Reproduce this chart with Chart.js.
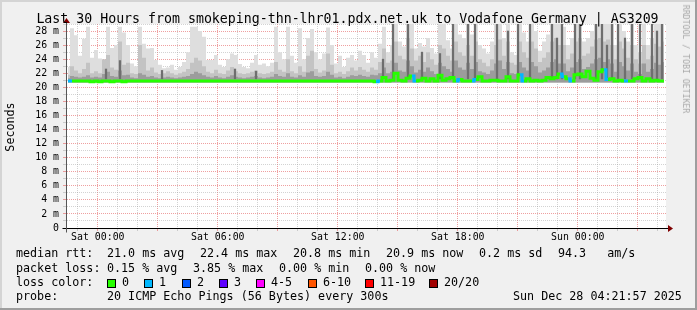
<!DOCTYPE html>
<html>
<head>
<meta charset="utf-8">
<script src="https://cdn.jsdelivr.net/npm/chart.js@4.4.1/dist/chart.umd.min.js"></script>
<style>
  html, body { margin: 0; padding: 0; background: #f0f0f0; }
  #wrap { position: relative; width: 697px; height: 310px; overflow: hidden; background: #f0f0f0;
          font-family: 'DejaVu Sans Mono', monospace; color: #000; }
  #c { position: absolute; left: 0; top: 0; }
  .txt { position: absolute; white-space: pre; line-height: 14px; font-size: 11.7px; }
  #title { position: absolute; left: 0; width: 695px; top: 11px; text-align: center; font-size: 13.25px; line-height: 16px; white-space: pre; }
  #ylab { position: absolute; left: 10px; top: 127px; font-size: 11.7px; line-height: 14px;
          transform: translate(-50%, -50%) rotate(-90deg); white-space: pre; }
  #mark { position: absolute; left: 686px; top: 59px; font-size: 8.2px; line-height: 10px; color: #a8a8a8;
          transform: translate(-50%, -50%) rotate(90deg); white-space: pre; }
  .box { position: absolute; width: 9px; height: 9px; box-sizing: border-box; border: 1px solid #000; }
  .edge { position: absolute; }
</style>
</head>
<body>
<div id="wrap">
  <canvas id="c" width="697" height="310"></canvas>
  <div id="title">Last 30 Hours from smokeping-thn-lhr01.pdx.net.uk to Vodafone Germany | AS3209</div>
  <div id="ylab">Seconds</div>
  <div id="mark">RRDTOOL / TOBI OETIKER</div>
  <div id="legend"></div>
  <div class="edge" style="left:0;top:0;width:697px;height:2px;background:#d4d4d4"></div>
  <div class="edge" style="left:0;top:0;width:2px;height:310px;background:#d4d4d4"></div>
  <div class="edge" style="left:0;top:308px;width:697px;height:2px;background:#9e9e9e"></div>
  <div class="edge" style="left:695px;top:0;width:2px;height:310px;background:#9e9e9e"></div>
</div>
<script>
// time axis: hours relative to Sat 00:00, one column per 12 minutes
let xMin = -1.59, xMax = 28.41, stepHours = 0.2;

let xTickHours = [0, 6, 12, 18, 24];
let xTickLabels = ['Sat 00:00', 'Sat 06:00', 'Sat 12:00', 'Sat 18:00', 'Sun 00:00'];
let yTickValues = [0, 2, 4, 6, 8, 10, 12, 14, 16, 18, 20, 22, 24, 26, 28];
let yTickLabels = ['0', '2 m', '4 m', '6 m', '8 m', '10 m', '12 m', '14 m', '16 m', '18 m', '20 m', '22 m', '24 m', '26 m', '28 m'];

// smoke: top of the light, medium and dark bands (ms)
let smokeHi = [
  22.9, 28.4, 27.4, 24.5, 26.9, 28.6, 24.2, 25.3, 24.1, 23.5,
  28.6, 25.6, 26.0, 28.6, 27.8, 26.0, 23.4, 23.0, 28.6, 26.2,
  25.5, 25.6, 23.9, 23.2, 22.7, 22.8, 23.2, 22.5, 22.9, 23.6,
  25.0, 28.6, 28.6, 28.0, 27.2, 23.9, 23.9, 24.6, 23.2, 22.9,
  24.0, 24.8, 24.6, 23.3, 22.9, 22.7, 23.5, 24.6, 23.2, 23.4,
  23.0, 23.5, 28.6, 25.0, 24.0, 28.6, 24.5, 23.5, 28.4, 24.0,
  27.0, 28.3, 25.0, 24.0, 24.8, 28.5, 26.0, 23.4, 24.5, 22.9,
  24.2, 24.6, 23.8, 25.2, 24.6, 23.5, 25.0, 24.2, 26.2, 28.6,
  25.0, 26.0, 29.0, 26.5, 25.8, 29.0, 29.0, 25.5, 26.3, 25.8,
  27.0, 25.6, 24.8, 29.0, 29.0, 26.7, 25.5, 29.0, 27.5, 27.0,
  29.0, 27.5, 29.0, 26.0, 25.5, 24.8, 26.5, 29.0, 29.0, 27.0,
  29.0, 25.0, 24.6, 29.0, 27.8, 26.5, 29.0, 28.0, 25.2, 26.5,
  27.5, 29.0, 29.0, 29.0, 28.6, 26.0, 27.0, 29.0, 29.0, 26.5,
  27.0, 28.0, 29.0, 29.0, 29.0, 29.0, 29.0, 26.0, 29.0, 28.0,
  26.5, 29.0, 26.0, 25.0, 29.0, 26.0, 27.0, 29.0, 29.0, 29.0
];
let smokeMid = [
  21.8, 23.0, 22.4, 22.0, 22.6, 23.5, 22.0, 22.3, 22.0, 24.0,
  24.6, 22.8, 22.5, 26.5, 23.2, 23.5, 22.0, 21.9, 26.0, 24.2,
  22.4, 22.8, 22.1, 21.9, 22.0, 22.3, 22.0, 21.8, 22.0, 22.2,
  22.6, 23.5, 24.2, 23.8, 23.0, 22.2, 22.0, 22.5, 22.0, 21.9,
  22.4, 22.9, 22.3, 22.0, 21.9, 22.0, 22.2, 22.4, 22.0, 21.9,
  22.0, 22.2, 23.6, 22.5, 22.2, 24.0, 22.3, 22.0, 23.0, 22.2,
  24.5, 25.2, 22.6, 22.1, 22.4, 24.8, 23.2, 22.0, 22.2, 21.9,
  22.3, 22.8, 22.4, 22.9, 22.5, 22.2, 22.8, 22.5, 23.6, 25.5,
  23.5, 23.8, 26.5, 24.5, 24.0, 27.0, 25.5, 23.8, 24.5, 23.6,
  25.0, 24.0, 23.2, 26.0, 25.5, 24.5, 23.8, 26.5, 25.0, 24.5,
  26.0, 24.5, 26.5, 24.0, 23.5, 23.0, 24.0, 26.0, 26.8, 24.5,
  26.5, 23.5, 23.2, 26.5, 25.0, 24.2, 26.5, 25.5, 23.6, 24.2,
  25.0, 26.5, 27.0, 26.0, 26.0, 24.0, 24.8, 26.5, 27.0, 24.5,
  24.8, 25.8, 26.8, 27.0, 26.5, 26.8, 26.0, 24.0, 26.5, 25.5,
  24.2, 26.0, 24.0, 23.4, 26.0, 24.0, 24.5, 26.2, 25.8, 26.5
];
let smokeLow = [
  21.3, 21.6, 21.5, 21.4, 21.5, 21.7, 21.4, 21.5, 21.4, 21.9,
  22.2, 21.6, 21.5, 22.4, 21.7, 21.8, 21.4, 21.3, 22.0, 21.8,
  21.5, 21.6, 21.4, 21.3, 21.4, 21.5, 21.4, 21.3, 21.4, 21.5,
  21.6, 21.9, 22.2, 22.0, 21.7, 21.5, 21.4, 21.6, 21.4, 21.3,
  21.5, 21.7, 21.5, 21.4, 21.3, 21.4, 21.5, 21.6, 21.4, 21.3,
  21.4, 21.5, 21.9, 21.6, 21.5, 22.0, 21.5, 21.4, 21.7, 21.5,
  22.1, 22.3, 21.6, 21.5, 21.6, 22.2, 21.8, 21.4, 21.5, 21.3,
  21.5, 21.7, 21.6, 21.8, 21.6, 21.5, 21.8, 21.7, 22.0, 22.8,
  22.0, 22.2, 23.5, 22.4, 22.2, 23.8, 23.0, 22.1, 22.5, 22.2,
  22.8, 22.3, 21.9, 23.5, 23.0, 22.6, 22.2, 23.8, 22.8, 22.5,
  23.5, 22.6, 23.6, 22.3, 22.1, 21.9, 22.4, 23.4, 23.8, 22.6,
  23.6, 22.0, 21.9, 23.6, 22.8, 22.4, 23.6, 23.0, 22.1, 22.4,
  22.8, 23.6, 24.0, 23.4, 23.4, 22.3, 22.8, 23.6, 24.0, 22.6,
  22.9, 23.4, 24.0, 24.2, 23.6, 24.0, 23.4, 22.2, 23.6, 23.0,
  22.4, 23.4, 22.2, 21.9, 23.4, 22.2, 22.6, 23.5, 23.2, 23.6
];
let medianRtt = [
  20.9, 20.9, 20.9, 20.9, 20.9, 20.9, 20.8, 20.9, 20.8, 20.9,
  20.9, 20.8, 20.9, 20.9, 20.8, 20.9, 20.9, 20.9, 20.9, 20.9,
  20.9, 20.9, 20.9, 20.9, 20.9, 20.9, 20.9, 20.9, 20.9, 20.9,
  20.9, 20.9, 20.9, 20.9, 20.9, 20.9, 20.9, 20.9, 20.9, 20.9,
  20.9, 20.9, 20.9, 20.9, 20.9, 20.9, 20.9, 20.9, 20.9, 20.9,
  20.9, 20.9, 20.9, 20.9, 20.9, 20.9, 20.9, 20.9, 20.9, 20.9,
  20.9, 20.9, 20.9, 20.9, 20.9, 20.9, 20.9, 20.9, 20.9, 20.9,
  20.9, 20.9, 20.9, 20.9, 20.9, 20.9, 20.9, 20.8, 20.9, 21.4,
  20.9, 21.0, 22.0, 21.0, 20.9, 21.3, 21.6, 20.9, 21.0, 21.3,
  20.9, 21.2, 20.9, 21.7, 21.0, 21.2, 21.4, 20.9, 21.1, 20.9,
  20.9, 20.9, 21.1, 21.5, 20.9, 20.9, 21.0, 21.0, 20.9, 20.9,
  21.5, 20.9, 20.9, 21.8, 20.9, 21.2, 20.9, 21.0, 20.9, 21.0,
  21.4, 21.2, 21.4, 21.9, 21.5, 21.2, 20.9, 21.8, 21.9, 21.5,
  22.3, 21.3, 21.0, 22.2, 22.5, 21.1, 21.2, 20.9, 21.0, 20.9,
  20.9, 20.9, 21.2, 21.4, 20.9, 21.2, 20.9, 21.0, 20.9, 20.9
];
// lost pings per column (index into lossColors)
let lossBucket = [
  1, 0, 0, 0, 0, 0, 0, 0, 0, 0,
  0, 0, 0, 0, 0, 0, 0, 0, 0, 0,
  0, 0, 0, 0, 0, 0, 0, 0, 0, 0,
  0, 0, 0, 0, 0, 0, 0, 0, 0, 0,
  0, 0, 0, 0, 0, 0, 0, 0, 0, 0,
  0, 0, 0, 0, 0, 0, 0, 0, 0, 0,
  0, 0, 0, 0, 0, 0, 0, 0, 0, 0,
  0, 0, 0, 0, 0, 0, 0, 1, 0, 0,
  0, 0, 0, 0, 0, 0, 1, 0, 0, 0,
  0, 0, 0, 0, 0, 0, 0, 1, 0, 0,
  0, 1, 0, 0, 0, 0, 0, 0, 0, 0,
  0, 0, 0, 1, 0, 0, 0, 0, 0, 0,
  0, 0, 0, 1, 0, 1, 0, 0, 0, 0,
  0, 0, 0, 0, 1, 0, 0, 0, 0, 1,
  0, 0, 0, 0, 0, 0, 0, 0, 0, 0
];
// narrow dark spikes: time (hours from Sat 00:00) and top (ms)
let spikeHours = [0.41, 1.11, 3.21, 6.86, 7.91, 14.26, 14.76, 15.51, 16.21, 17.11, 17.76, 18.51, 18.86, 19.96, 20.51, 21.01,
  21.61, 22.71, 22.96, 23.21, 23.86, 24.11, 24.91, 25.21, 25.46, 25.71, 26.01, 26.36, 26.71, 27.11, 27.71, 27.96, 28.21];
let spikeTops = [22.6, 23.8, 22.4, 22.6, 22.3, 24.0, 29.0, 29.0, 25.0, 24.8, 29.0, 29.0, 29.0, 29.0, 28.0, 29.0,
  29.0, 29.0, 27.0, 29.0, 29.0, 29.0, 29.0, 29.0, 26.0, 29.0, 29.0, 27.0, 29.0, 29.0, 29.0, 28.0, 29.0];

let lossLabels = ['0', '1', '2', '3', '4-5', '6-10', '11-19', '20/20'];
let lossColors = ['#26ff00', '#00b8ff', '#0059ff', '#5e00ff', '#ff00ff', '#ff5500', '#ff0000', '#a10000'];

let times = smokeHi.map((v, i) => +(xMin + (i + 0.5) * stepHours).toFixed(3));
function pts(arr) { return arr.map((v, i) => ({ x: times[i], y: v })); }

let majorGrid = 'rgba(228,96,96,0.6)';
let minorGrid = 'rgba(150,150,150,0.42)';
let tickFont = { family: 'DejaVu Sans Mono', size: 9.9 };

let areaBg = {
  id: 'areaBg',
  beforeDraw(chart) {
    let a = chart.chartArea, ctx = chart.ctx;
    ctx.save();
    ctx.fillStyle = '#ffffff';
    ctx.fillRect(a.left, a.top, a.right - a.left, a.bottom - a.top);
    ctx.restore();
  }
};

let axisArrows = {
  id: 'axisArrows',
  afterDraw(chart) {
    let a = chart.chartArea, ctx = chart.ctx;
    let x0 = Math.round(a.left) + 0.5, y0 = Math.round(a.bottom) + 0.5;
    ctx.save();
    ctx.lineWidth = 1;
    ctx.strokeStyle = '#000';
    ctx.beginPath();
    ctx.moveTo(x0 - 4, y0); ctx.lineTo(a.right + 3, y0);
    ctx.stroke();
    ctx.strokeStyle = '#555';
    ctx.beginPath();
    ctx.moveTo(x0, y0 + 4); ctx.lineTo(x0, a.top - 2);
    ctx.stroke();
    ctx.fillStyle = '#7f0000';
    ctx.beginPath();
    ctx.moveTo(a.right + 2, y0 - 3.5); ctx.lineTo(a.right + 7, y0); ctx.lineTo(a.right + 2, y0 + 3.5);
    ctx.closePath(); ctx.fill();
    ctx.beginPath();
    ctx.moveTo(x0 - 3.5, a.top - 1); ctx.lineTo(x0, a.top - 6); ctx.lineTo(x0 + 3.5, a.top - 1);
    ctx.closePath(); ctx.fill();
    ctx.restore();
  }
};

function smoke(data, color, order) {
  return {
    type: 'line', data: pts(data), order: order,
    backgroundColor: color, borderColor: 'rgba(0,0,0,0)', borderWidth: 0,
    pointRadius: 0, stepped: 'middle', fill: { value: 20.7 }
  };
}

new Chart(document.getElementById('c').getContext('2d'), {
  type: 'line',
  data: {
    datasets: [
      {
        type: 'line', data: pts(medianRtt), order: 1,
        borderColor: lossColors[0], borderWidth: 3, pointRadius: 0, stepped: 'middle', fill: false,
        segment: { borderColor: ctx => lossColors[lossBucket[ctx.p0DataIndex]] }
      },
      {
        type: 'bar', order: 2,
        data: spikeHours.map((h, i) => ({ x: h, y: [21.2, spikeTops[i]] })),
        backgroundColor: '#6e6e6e', barThickness: 1.6, grouped: false
      },
      smoke(smokeLow, '#9c9c9c', 3),
      smoke(smokeMid, '#c3c3c3', 4),
      smoke(smokeHi, '#dedede', 5)
    ]
  },
  options: {
    responsive: false,
    animation: false,
    events: [],
    layout: { padding: { left: 0, top: 24, right: 31, bottom: 62 } },
    plugins: { legend: { display: false }, title: { display: false }, tooltip: { enabled: false } },
    scales: {
      x: {
        type: 'linear', min: xMin, max: xMax, offset: false, z: 1,
        afterFit: s => { s.height = 20; },
        afterBuildTicks: s => {
          let t = [];
          for (let h = Math.ceil(xMin); h <= Math.floor(xMax); h++) t.push({ value: h });
          s.ticks = t;
        },
        grid: {
          offset: false, drawTicks: true, tickLength: 3, lineWidth: 1,
          color: c => (c.tick && c.tick.value % 3 === 0) ? majorGrid : minorGrid
        },
        border: { display: true, color: '#000', width: 1, dash: [1, 1] },
        ticks: {
          autoSkip: false, maxRotation: 0, minRotation: 0, padding: 0, color: '#000', font: tickFont,
          callback: v => { let i = xTickHours.indexOf(v); return i >= 0 ? xTickLabels[i] : ''; }
        }
      },
      y: {
        type: 'linear', min: 0, max: 29, z: 1,
        afterFit: s => { s.width = 66; },
        afterBuildTicks: s => {
          let t = [];
          for (let v = 0; v <= 29; v++) t.push({ value: v });
          s.ticks = t;
        },
        grid: {
          drawTicks: true, tickLength: 3, lineWidth: 1,
          color: c => (c.tick && c.tick.value % 2 === 0) ? majorGrid : minorGrid
        },
        border: { display: true, color: '#555', width: 1, dash: [1, 1] },
        ticks: {
          autoSkip: false, padding: 4, color: '#000', font: tickFont,
          callback: v => { let i = yTickValues.indexOf(v); return i >= 0 ? yTickLabels[i] : ''; }
        }
      }
    }
  },
  plugins: [areaBg, axisArrows]
});

// legend block under the graph
let legend = document.getElementById('legend');
function put(text, left, top) {
  let d = document.createElement('div');
  d.className = 'txt';
  d.style.left = left + 'px';
  d.style.top = top + 'px';
  d.textContent = text;
  legend.appendChild(d);
}
let rowTop = [246.4, 260.6, 274.8, 289.0];
put('median rtt:', 16, rowTop[0]);
put('21.0 ms avg', 107, rowTop[0]);
put('22.4 ms max', 200, rowTop[0]);
put('20.8 ms min', 293, rowTop[0]);
put('20.9 ms now', 386, rowTop[0]);
put('0.2 ms sd', 479, rowTop[0]);
put('94.3   am/s', 558, rowTop[0]);
put('packet loss:', 16, rowTop[1]);
put('0.15 % avg', 107, rowTop[1]);
put('3.85 % max', 193, rowTop[1]);
put('0.00 % min', 279, rowTop[1]);
put('0.00 % now', 365, rowTop[1]);
put('loss color:', 16, rowTop[2]);
let boxX = [107, 144, 182, 219, 256, 308, 365, 429];
lossLabels.forEach((lab, i) => {
  let b = document.createElement('div');
  b.className = 'box';
  b.style.left = boxX[i] + 'px';
  b.style.top = '278.5px';
  b.style.background = lossColors[i];
  legend.appendChild(b);
  put(lab, boxX[i] + 15, rowTop[2]);
});
put('probe:', 16, rowTop[3]);
put('20 ICMP Echo Pings (56 Bytes) every 300s', 107, rowTop[3]);
put('Sun Dec 28 04:21:57 2025', 513, rowTop[3]);
</script>
</body>
</html>
